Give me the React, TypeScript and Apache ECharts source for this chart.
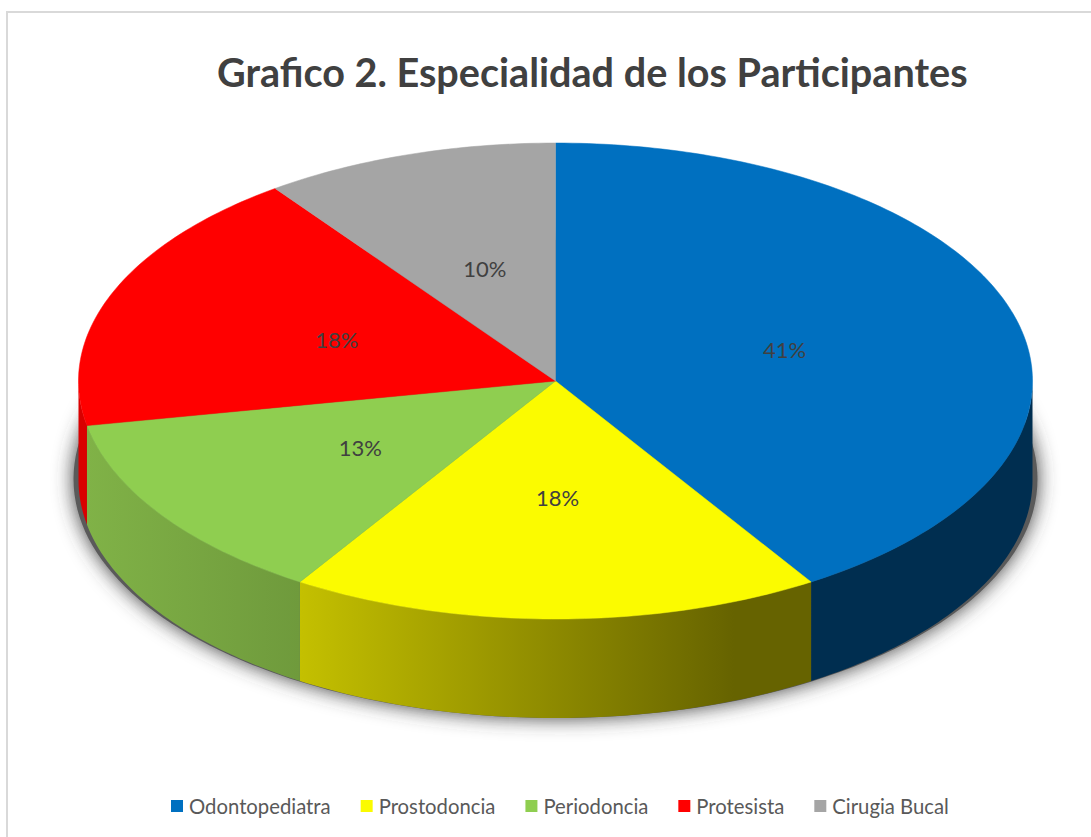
import React, { useEffect, useRef } from "react";
import * as echarts from "echarts";

const titleText = "Grafico 2. Especialidad de los Participantes";
const categories = ["Odontopediatra", "Prostodoncia", "Periodoncia", "Protesista", "Cirugia Bucal"];
const percents = [41, 18, 13, 18, 10];
const topColors = ["#0070C0", "#FBFB00", "#8FCE50", "#FF0000", "#A5A5A5"];

const CX = 555.5;
const CY = 381;
const RX = 477;
const RY = 238;
const DEPTH = 99;
const FONT = "Lato, sans-serif";

const sideFill = (i: number): any => {
  const grad = (stops: [number, string][]) =>
    new echarts.graphic.LinearGradient(0, 0, 1, 0, stops.map(([offset, color]) => ({ offset, color })));
  if (i === 0) return "#002E50";
  if (i === 1) return grad([[0, "#C4C000"], [0.85, "#666300"], [1, "#666300"]]);
  if (i === 2) return grad([[0, "#80B247"], [1, "#6F9A3C"]]);
  if (i === 3) return "#D90000";
  return "#7C7C7C";
};

const labelNudge = (i: number): number[] => {
  if (i === 0) return [0, 2];
  if (i === 1) return [2, -3];
  if (i === 2) return [2, 0];
  if (i === 3) return [3, 2];
  return [3, 1];
};

const rimPoint = (deg: number, drop = 0): number[] => {
  const t = (deg * Math.PI) / 180;
  return [CX + RX * Math.sin(t), CY - RY * Math.cos(t) + drop];
};

const arc = (from: number, to: number, drop = 0): number[][] => {
  const pts: number[][] = [];
  const steps = Math.max(2, Math.ceil(Math.abs(to - from)));
  for (let k = 0; k <= steps; k++) pts.push(rimPoint(from + ((to - from) * k) / steps, drop));
  return pts;
};

const total = percents.reduce((a, b) => a + b, 0);

const makeSeries = (name: string, i: number) => {
  const before = percents.slice(0, i).reduce((a, b) => a + b, 0);
  return {
    name,
    type: "custom",
    coordinateSystem: "none",
    silent: true,
    itemStyle: { color: topColors[i] },
    data: [[before, percents[i]]],
    renderItem: (_p: any, api: any) => {
      const start = (api.value(0) / total) * 360;
      const end = start + (api.value(1) / total) * 360;
      const children: any[] = [];
      const sFrom = Math.max(start, 90);
      const sTo = Math.min(end, 270);
      if (sTo > sFrom) {
        children.push({
          type: "polygon",
          shape: { points: [...arc(sFrom, sTo), ...arc(sTo, sFrom, DEPTH)] },
          style: { fill: sideFill(i) },
        });
      }
      children.push({
        type: "polygon",
        shape: { points: [[CX, CY], ...arc(start, end)] },
        style: { fill: topColors[i], stroke: topColors[i], lineWidth: 0.5 },
      });
      const mid = (start + end) / 2;
      const [lx, ly] = rimPoint(mid);
      const [nx, ny] = labelNudge(i);
      children.push({
        type: "text",
        style: {
          x: CX + (lx - CX) * 0.5 + nx,
          y: CY + (ly - CY) * 0.5 + ny,
          text: `${api.value(1)}%`,
          fill: "#404040",
          font: `22px ${FONT}`,
          align: "center",
          verticalAlign: "middle",
        },
      });
      return { type: "group", children };
    },
  };
};

export default function App() {
  const ref = useRef<HTMLDivElement>(null);
  useEffect(() => {
    document.body.style.margin = "0";
    const chart = echarts.init(ref.current!, undefined, { renderer: "svg" });
    chart.setOption({
      animation: false,
      backgroundColor: "#ffffff",
      title: {
        text: titleText,
        left: 212,
        top: 46,
        textStyle: { fontFamily: FONT, fontSize: 39.6, fontWeight: "bold", color: "#404040" },
      },
      legend: {
        left: 166,
        top: 791,
        itemWidth: 12,
        itemHeight: 12,
        itemGap: 30,
        icon: "rect",
        data: categories,
        textStyle: { fontFamily: FONT, fontSize: 20.3, color: "#595959", padding: [0, 0, 0, 1] },
      },
      graphic: [
        {
          type: "rect",
          z: -10,
          silent: true,
          shape: { x: 7, y: 12, width: 1200, height: 1000 },
          style: { fill: "#ffffff", stroke: "#D9D9D9", lineWidth: 2 },
        },
        {
          type: "ellipse",
          z: -5,
          silent: true,
          shape: { cx: CX, cy: CY + DEPTH - 1, rx: RX + 5, ry: RY + 1 },
          style: { fill: "#5A5A5A", shadowBlur: 20, shadowColor: "rgba(60,60,60,1)" },
        },
      ],
      series: categories.map(makeSeries),
    });
    return () => chart.dispose();
  }, []);
  return <div ref={ref} style={{ width: 1091, height: 837 }} />;
}
